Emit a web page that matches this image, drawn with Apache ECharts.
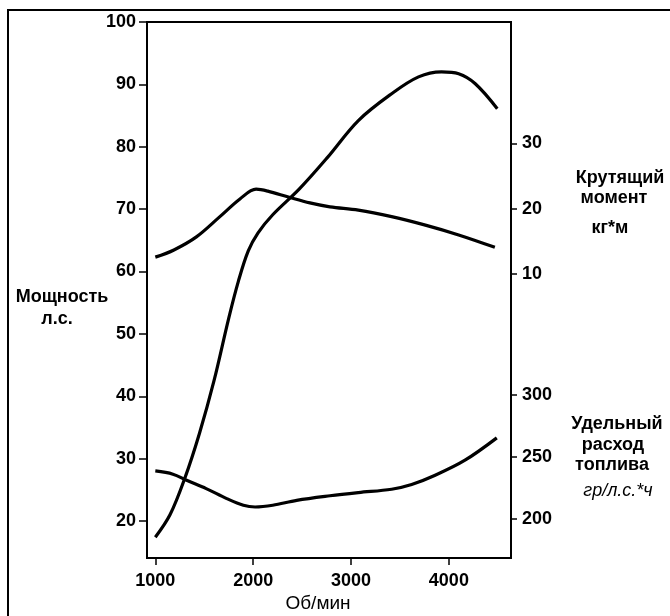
<!DOCTYPE html>
<html>
<head>
<meta charset="utf-8">
<script src="https://cdn.jsdelivr.net/npm/echarts@6/dist/echarts.min.js"></script>
<style>
html,body{margin:0;padding:0;background:#fff;}
#chart{width:670px;height:616px;}
</style>
</head>
<body>
<div id="chart"></div>
<script>
// tick labels
const rpmTicks = [1000, 2000, 3000, 4000];
const powerTicks = [20, 30, 40, 50, 60, 70, 80, 90, 100];
const torqueTicks = [10, 20, 30];
const fuelTicks = [200, 250, 300];

// Power, hp  [rpm, value]
const powerData = [
  [1000,17.4],[1150,21.0],[1300,26.8],[1450,34.0],[1600,42.5],[1750,52.5],
  [1850,58.5],[1950,63.3],[2050,66.2],[2200,69.1],[2470,73.2],[2760,78.3],
  [3075,84.2],[3415,88.5],[3690,91.2],[3925,92.0],[4100,91.7],[4270,90.1],[4495,86.1]
];
// Torque, kg*m
const torqueData = [
  [1000,12.6],[1190,13.7],[1420,15.7],[1660,18.8],[1865,21.5],[2030,23.0],
  [2150,22.7],[2360,21.8],[2580,20.9],[2785,20.3],[3075,19.8],[3415,18.8],
  [3760,17.5],[4100,16.0],[4470,14.1]
];
// Specific fuel consumption, g/hp*h
const fuelData = [
  [1000,238.6],[1180,236.0],[1320,231.0],[1520,224.3],[1730,216.2],[1900,210.8],
  [2020,209.4],[2200,210.8],[2445,214.8],[2785,218.5],[3075,221.1],[3415,223.8],
  [3620,227.6],[3860,235.1],[4165,247.3],[4490,265.4]
];

const FONT = '"Liberation Sans", Arial, sans-serif';
const lbl = {color:'#000', fontFamily:FONT, fontWeight:'bold', fontSize:18};
const plain = v => String(v);

const chart = echarts.init(document.getElementById('chart'), null, {renderer:'canvas'});
chart.setOption({
  backgroundColor:'#fff',
  animation:false,
  grid:{left:147, right:159, top:22, bottom:58, show:true, borderColor:'#000', borderWidth:2, backgroundColor:'transparent'},
  xAxis:{
    type:'value', min:915, max:4635,
    axisLine:{show:true, onZero:false, lineStyle:{color:'#000', width:2}},
    axisTick:{show:true, length:7, customValues:rpmTicks, lineStyle:{color:'#000', width:1.5}},
    axisLabel:Object.assign({customValues:rpmTicks, margin:14, formatter:plain}, lbl),
    splitLine:{show:false}
  },
  yAxis:[
    {
      type:'value', min:14.07, max:100, position:'left',
      axisLine:{show:true, onZero:false, lineStyle:{color:'#000', width:2}},
      axisTick:{show:true, length:8, customValues:powerTicks, lineStyle:{color:'#000', width:1.5}},
      axisLabel:Object.assign({customValues:powerTicks, margin:11, formatter:plain}, lbl),
      splitLine:{show:false}
    },
    {
      type:'value', min:-33.45, max:48.59, position:'right', offset:0,
      axisLine:{show:true, onZero:false, lineStyle:{color:'#000', width:2}},
      axisTick:{show:true, length:6, customValues:torqueTicks, lineStyle:{color:'#000', width:1.5}},
      axisLabel:Object.assign({customValues:torqueTicks, margin:11, formatter:plain}, lbl),
      splitLine:{show:false}
    },
    {
      type:'value', min:168.05, max:602.5, position:'right', offset:0,
      axisLine:{show:false},
      axisTick:{show:true, length:6, customValues:fuelTicks, lineStyle:{color:'#000', width:1.5}},
      axisLabel:Object.assign({customValues:fuelTicks, margin:11, formatter:plain}, lbl),
      splitLine:{show:false}
    }
  ],
  series:[
    {type:'line', data:powerData, yAxisIndex:0, smooth:0.35, symbol:'none', lineStyle:{color:'#000', width:3.2}},
    {type:'line', data:torqueData, yAxisIndex:1, smooth:0.35, symbol:'none', lineStyle:{color:'#000', width:3.2}},
    {type:'line', data:fuelData, yAxisIndex:2, smooth:0.35, symbol:'none', lineStyle:{color:'#000', width:3.2}}
  ],
  graphic:[
    {type:'rect', shape:{x:8, y:10, width:700, height:700}, style:{fill:'none', stroke:'#000', lineWidth:2}, silent:true},
    {type:'text', x:62, y:297, style:{text:'Мощность', font:'bold 18px '+FONT, fill:'#000', align:'center', verticalAlign:'middle'}},
    {type:'text', x:57, y:319, style:{text:'л.с.', font:'bold 18px '+FONT, fill:'#000', align:'center', verticalAlign:'middle'}},
    {type:'text', x:620, y:178, style:{text:'Крутящий', font:'bold 18px '+FONT, fill:'#000', align:'center', verticalAlign:'middle'}},
    {type:'text', x:614, y:198, style:{text:'момент', font:'bold 18px '+FONT, fill:'#000', align:'center', verticalAlign:'middle'}},
    {type:'text', x:610, y:228, style:{text:'кг*м', font:'bold 18px '+FONT, fill:'#000', align:'center', verticalAlign:'middle'}},
    {type:'text', x:617, y:424, style:{text:'Удельный', font:'bold 18px '+FONT, fill:'#000', align:'center', verticalAlign:'middle'}},
    {type:'text', x:613, y:445, style:{text:'расход', font:'bold 18px '+FONT, fill:'#000', align:'center', verticalAlign:'middle'}},
    {type:'text', x:612, y:465, style:{text:'топлива', font:'bold 18px '+FONT, fill:'#000', align:'center', verticalAlign:'middle'}},
    {type:'text', x:618, y:491, style:{text:'гр/л.с.*ч', font:'italic 18px '+FONT, fill:'#000', align:'center', verticalAlign:'middle'}},
    {type:'text', x:318, y:604, style:{text:'Об/мин', font:'19px '+FONT, fill:'#000', align:'center', verticalAlign:'middle'}}
  ]
});
</script>
</body>
</html>
